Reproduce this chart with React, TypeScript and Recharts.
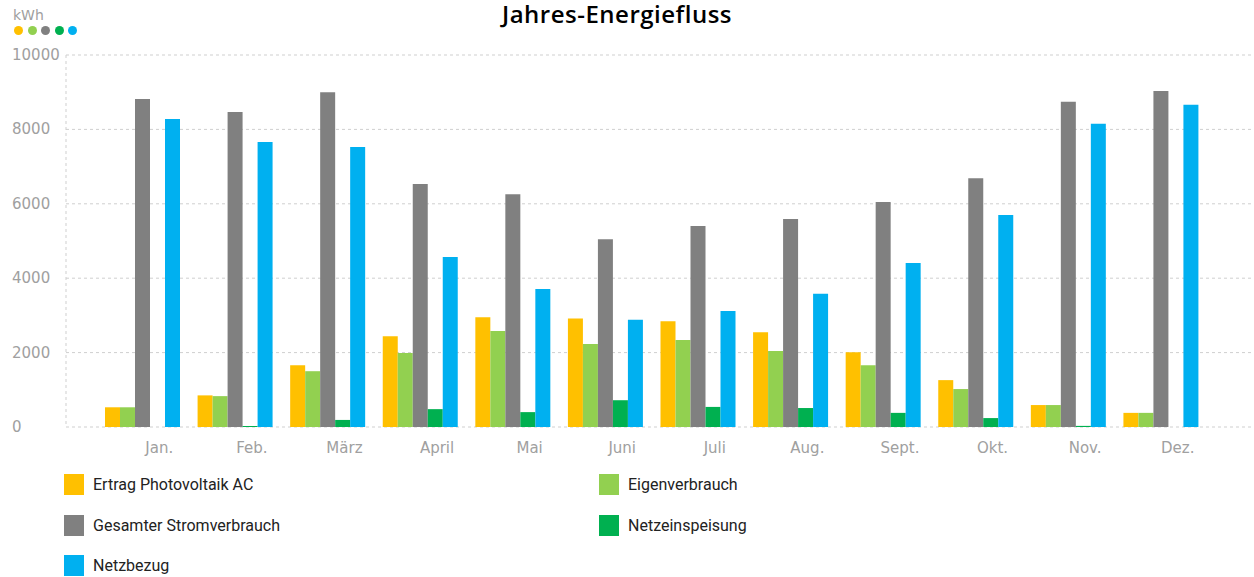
import { BarChart, Bar, XAxis, YAxis, CartesianGrid } from "recharts";

const months = ["Jan.", "Feb.", "März", "April", "Mai", "Juni", "Juli", "Aug.", "Sept.", "Okt.", "Nov.", "Dez."];

// kWh pro Monat
const ertragPV = [530, 850, 1660, 2440, 2950, 2920, 2840, 2550, 2010, 1260, 590, 380];
const eigenverbrauch = [530, 830, 1500, 1990, 2580, 2230, 2340, 2040, 1660, 1020, 590, 380];
const gesamtverbrauch = [8820, 8470, 9000, 6530, 6260, 5050, 5400, 5590, 6050, 6690, 8740, 9030];
const netzeinspeisung = [0, 30, 190, 480, 400, 720, 540, 510, 380, 240, 30, 0];
const netzbezug = [8280, 7660, 7530, 4570, 3710, 2880, 3120, 3580, 4410, 5700, 8150, 8660];

const yTicks = [0, 2000, 4000, 6000, 8000, 10000];

const series = [
  { key: "pv", name: "Ertrag Photovoltaik AC", color: "#FFC000" },
  { key: "eigen", name: "Eigenverbrauch", color: "#92D050" },
  { key: "gesamt", name: "Gesamter Stromverbrauch", color: "#808080" },
  { key: "einspeisung", name: "Netzeinspeisung", color: "#00B050" },
  { key: "bezug", name: "Netzbezug", color: "#00B0F0" },
];

const data = months.map((m, i) => ({
  month: m,
  pv: ertragPV[i],
  eigen: eigenverbrauch[i],
  gesamt: gesamtverbrauch[i],
  einspeisung: netzeinspeisung[i],
  bezug: netzbezug[i],
}));

const axisFont = "'DejaVu Sans', sans-serif";

const XTick = ({ x, payload }: any) => (
  <text x={x + 18} y={453} textAnchor="middle" fontSize={15} fontFamily={axisFont} fill="#a0a0a0">
    {payload.value}
  </text>
);

const YTick = ({ y, payload }: any) => (
  <text x={12} y={y + 5} textAnchor="start" fontSize={15} fontFamily={axisFont} fill="#a0a0a0">
    {payload.value}
  </text>
);

// legend laid out in two columns like the original
const legendPos = [
  { left: 64, top: 474 },
  { left: 599, top: 474 },
  { left: 64, top: 515 },
  { left: 599, top: 515 },
  { left: 64, top: 555 },
];

export default function App() {
  return (
    <div style={{ position: "absolute", left: 0, top: 0, width: 1254, height: 577, background: "#fff", overflow: "hidden" }}>
      <div
        style={{
          position: "absolute", left: 0, width: 1234, top: 2, textAlign: "center",
          fontFamily: "'Open Sans', sans-serif", fontWeight: 600, fontSize: 24, letterSpacing: 0.5,
          lineHeight: "24px", color: "#000",
        }}
      >
        Jahres-Energiefluss
      </div>

      <div style={{ position: "absolute", left: 13, top: 6, fontFamily: axisFont, fontSize: 14, color: "#a0a0a0", lineHeight: "18px" }}>
        kWh
      </div>
      {series.map((s, i) => (
        <div
          key={s.key}
          style={{ position: "absolute", left: 14 + i * 13.5, top: 26, width: 9, height: 9, borderRadius: "50%", background: s.color }}
        />
      ))}

      <BarChart
        width={1254}
        height={460}
        data={data}
        margin={{ top: 55, right: 2, left: 36, bottom: 3 }}
        barCategoryGap={10}
        barGap={0}
      >
        <CartesianGrid vertical={false} stroke="#cfcfcf" strokeDasharray="3 3" />
        <XAxis
          dataKey="month"
          height={30}
          axisLine={false}
          tickLine={false}
          tick={<XTick />}
          padding={{ left: 29, right: 46 }}
          interval={0}
        />
        <YAxis
          width={30}
          domain={[0, 10000]}
          ticks={yTicks}
          axisLine={{ stroke: "#cfcfcf", strokeDasharray: "3 3" }}
          tickLine={false}
          tick={<YTick />}
        />
        {series.map((s) => (
          <Bar key={s.key} dataKey={s.key} name={s.name} fill={s.color} isAnimationActive={false} />
        ))}
      </BarChart>

      {series.map((s, i) => (
        <div key={s.key} style={{ position: "absolute", left: legendPos[i].left, top: legendPos[i].top, height: 21, display: "flex", alignItems: "center" }}>
          <div style={{ width: 20, height: 21, background: s.color }} />
          <span style={{ marginLeft: 9, fontFamily: "Roboto, sans-serif", fontSize: 16, color: "#222" }}>{s.name}</span>
        </div>
      ))}
    </div>
  );
}
